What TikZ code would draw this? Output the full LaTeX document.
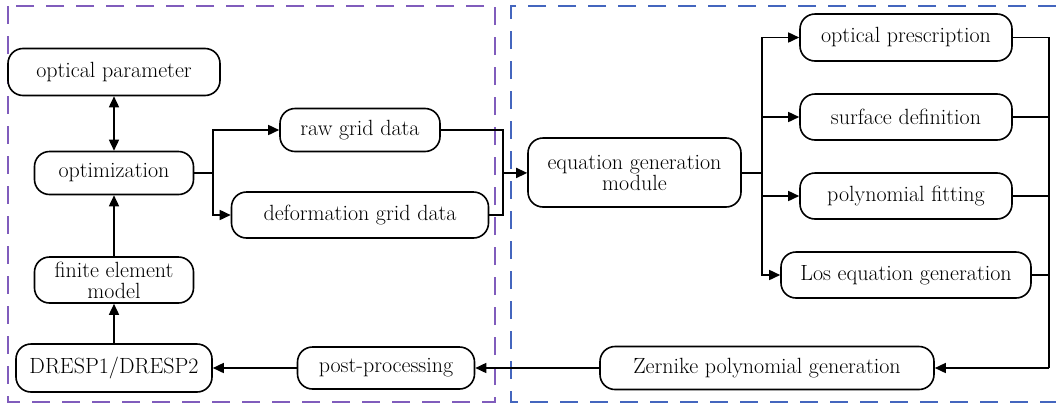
\documentclass[tikz,border=0pt]{standalone}
\usetikzlibrary{arrows.meta}
\definecolor{boxpurple}{RGB}{128,92,188}
\definecolor{boxblue}{RGB}{68,102,190}
\begin{document}
\begin{tikzpicture}[x=1pt,y=-1pt,
  every node/.style={font=\fontsize{22}{21}\selectfont},
  blk/.style={draw, line width=1.6pt, rounded corners=15pt, inner sep=0pt, align=center},
  conn/.style={line width=1.6pt},
  arr/.style={conn, -{Triangle[length=11pt,width=10pt]}},
  frame/.style={line width=1.5pt, dash pattern=on 18pt off 12pt}]
\useasboundingbox (0,0) rectangle (1056,410);
% frames
\draw[frame, boxpurple] (8,6) rectangle (495,402);
\draw[frame, boxblue] (1056,6) -- (511,6) -- (511,402) -- (1056,402);
% nodes
\node[blk, minimum width=212pt, minimum height=47pt] (optpar) at (114,72) {optical parameter};
\node[blk, minimum width=159pt, minimum height=43pt] (optim) at (114,173) {optimization};
\node[blk, minimum width=159pt, minimum height=46pt] (fem) at (114,280) {finite element\\model};
\node[blk, minimum width=196pt, minimum height=48pt] (dresp) at (114,368) {DRESP1/DRESP2};
\node[blk, minimum width=177pt, minimum height=42pt] (post) at (386,368) {post-processing};
\node[blk, minimum width=160pt, minimum height=43pt] (raw) at (360,130) {raw grid data};
\node[blk, minimum width=257pt, minimum height=46pt] (deform) at (360,215) {deformation grid data};
\node[blk, minimum width=213pt, minimum height=69pt] (eq) at (634.5,172.5) {equation generation\\module};
\node[blk, minimum width=212pt, minimum height=47pt] (op) at (906,37.5) {optical prescription};
\node[blk, minimum width=212pt, minimum height=46pt] (surf) at (906,117) {surface definition};
\node[blk, minimum width=212pt, minimum height=46pt] (poly) at (906,196) {polynomial fitting};
\node[blk, minimum width=250pt, minimum height=46pt] (los) at (906,275) {Los equation generation};
\node[blk, minimum width=334pt, minimum height=43pt] (zern) at (767,368) {Zernike polynomial generation};
% branch coordinates
\coordinate (b1) at (213,173);
\coordinate (b2) at (503,173);
\coordinate (b3) at (762,173);
\coordinate (b4) at (1049,368);
% connectors
\draw[conn, {Triangle[length=11pt,width=10pt]}-{Triangle[length=11pt,width=10pt]}] (optpar) -- (optim);
\draw[arr] (fem) -- (optim);
\draw[arr] (dresp) -- (fem);
\draw[arr] (post) -- (dresp);
\draw[arr] (zern) -- (post);
\draw[conn] (optim) -- (b1);
\draw[arr] (b1) |- (raw);
\draw[arr] (b1) |- (deform);
\draw[conn] (raw) -| (b2);
\draw[conn] (deform) -| (b2);
\draw[arr] (b2) -- (eq);
\draw[conn] (eq.east |- b3) -- (b3);
\draw[arr] (b3) |- (op);
\draw[arr] (b3) |- (surf);
\draw[arr] (b3) |- (poly);
\draw[arr] (b3) |- (los);
\draw[conn] (op) -| (b4);
\draw[conn] (surf) -| (b4);
\draw[conn] (poly) -| (b4);
\draw[conn] (los) -| (b4);
\draw[arr] (b4) -- (zern);
\end{tikzpicture}
\end{document}
